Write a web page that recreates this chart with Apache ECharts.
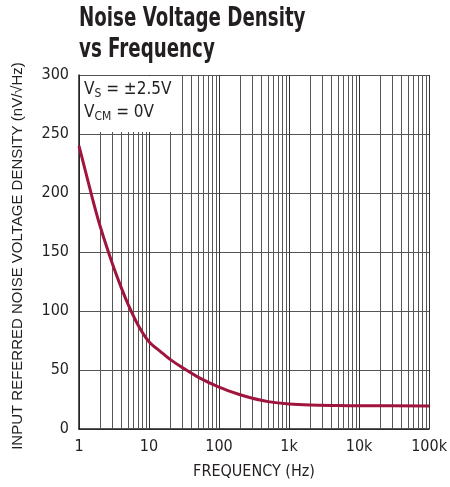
<!DOCTYPE html>
<html><head><meta charset="utf-8">
<script src="https://cdn.jsdelivr.net/npm/echarts@6/dist/echarts.min.js"></script>
<style>html,body{margin:0;padding:0;background:#fff}#c{width:450px;height:487px}</style>
</head><body><div id="c"></div>
<script>
const frequencies = [1, 1.5, 2, 3, 4, 5, 7, 10, 15, 20, 30, 50, 100, 200, 300, 500, 1000, 2000, 5000, 10000, 100000];
const noiseDensity = [240, 199, 172, 140, 120, 106, 88, 74, 65, 59, 52, 44, 35.5, 29, 26, 23.2, 21.2, 20.3, 19.9, 19.7, 19.5];
const xTickLabels = {1: '1', 10: '10', 100: '100', 1000: '1k', 10000: '10k', 100000: '100k'};
const minorFreqs = [];
for (let d = 1; d < 100000; d *= 10) for (let m = 2; m <= 9; m++) minorFreqs.push(m * d);

const FONT = '"DejaVu Sans Condensed", "Liberation Sans Narrow", sans-serif';
const chart = echarts.init(document.getElementById('c'));
chart.setOption({
  animation: false,
  grid: {left: 79, right: 19, top: 75, bottom: 58},
  xAxis: {
    type: 'log', logBase: 10, min: 1, max: 100000,
    name: 'FREQUENCY (Hz)', nameLocation: 'middle', nameGap: 35,
    nameTextStyle: {fontFamily: FONT, fontSize: 16, color: '#231f20'},
    axisLine: {lineStyle: {color: '#231f20', width: 1.5}},
    axisTick: {show: false},
    axisLabel: {fontFamily: FONT, fontSize: 16, color: '#231f20', margin: 10,
      formatter: v => xTickLabels[Math.round(v)] || ''},
    splitLine: {show: true, lineStyle: {color: '#333', width: 1}}
  },
  yAxis: {
    type: 'value', min: 0, max: 300, interval: 50,
    axisLine: {show: true, lineStyle: {color: '#231f20', width: 1.5}},
    axisTick: {show: false},
    axisLabel: {fontFamily: FONT, fontSize: 16, color: '#231f20', margin: 10},
    splitLine: {show: true, lineStyle: {color: '#555', width: 1}}
  },
  series: [{
    type: 'line',
    data: frequencies.map((f, i) => [f, noiseDensity[i]]),
    smooth: 0.3, showSymbol: false,
    lineStyle: {color: '#a0153e', width: 3},
    z: 5,
    markLine: {
      silent: true, symbol: 'none', label: {show: false},
      lineStyle: {color: '#555', width: 1, type: 'solid'},
      data: minorFreqs.map(f => ({xAxis: f}))
    }
  }],
  graphic: [{
    type: 'text', x: 79, y: 4, scaleX: 0.78, z: 100,
    style: {
      text: 'Noise Voltage Density\nvs Frequency',
      fontFamily: FONT, fontWeight: 'bold', fontSize: 26, lineHeight: 31, fill: '#231f20'
    }
  }, {
    type: 'text', x: 18, y: 256, rotation: Math.PI / 2, z: 100,
    style: {
      text: 'INPUT REFERRED NOISE VOLTAGE DENSITY (nV/√Hz)',
      fontFamily: '"Liberation Sans", sans-serif', fontSize: 15, fill: '#231f20',
      align: 'center', verticalAlign: 'middle'
    }
  }, {
    type: 'rect', left: 80, top: 76, z: 100,
    shape: {width: 99, height: 56},
    style: {fill: '#fff'}
  }, {
    type: 'text', left: 84, top: 80, z: 101,
    style: {
      text: '{v|V}{s|S}{v| = ±2.5V}\n{v|V}{s|CM}{v| = 0V}',
      rich: {
        v: {fontFamily: FONT, fontSize: 17, fill: '#231f20', lineHeight: 23},
        s: {fontFamily: FONT, fontSize: 12, fill: '#231f20', padding: [8, 0, 0, 0], lineHeight: 23}
      }
    }
  }]
});
</script></body></html>
